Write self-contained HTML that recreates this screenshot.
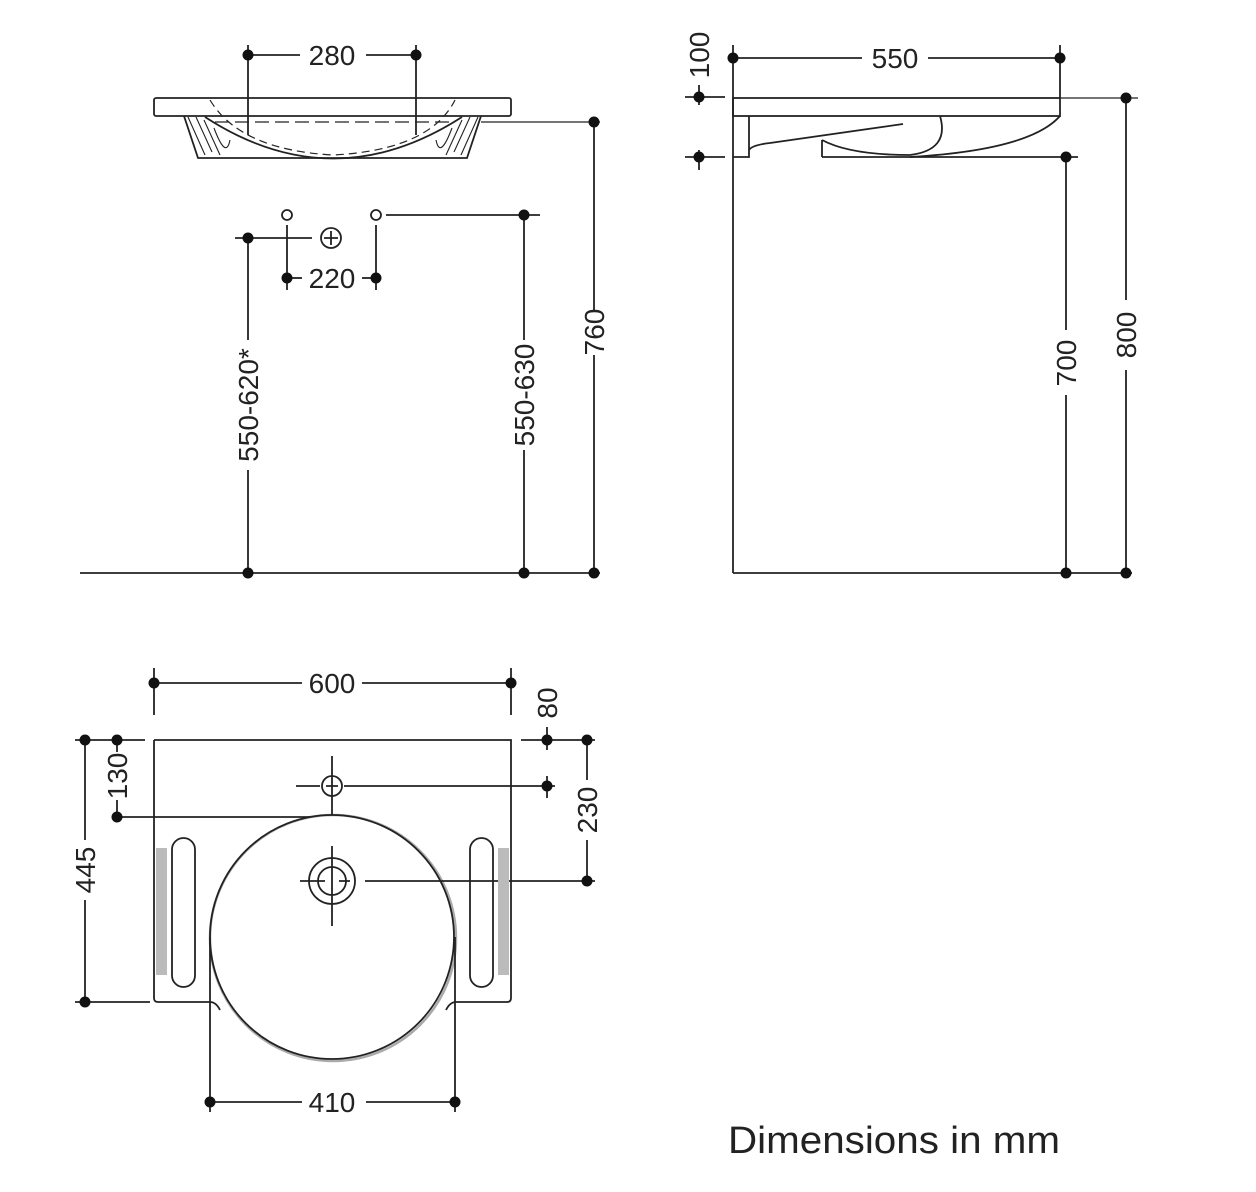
<!DOCTYPE html>
<html><head><meta charset="utf-8"><style>
html,body{margin:0;padding:0;background:#fff}
svg{display:block}
text{font-family:"Liberation Sans",sans-serif;fill:#222}
</style></head><body>
<svg width="1256" height="1192" viewBox="0 0 1256 1192" xmlns="http://www.w3.org/2000/svg">
<g stroke="#222" stroke-width="1.8" fill="none">
<rect x="154" y="98" width="357" height="18" rx="2"/>
<path d="M184 116 L198 158 L467 158 L481 116"/>
<path d="M205 117 Q333 200 462 117"/>
<path d="M210 100 Q240 150 333 155 Q430 150 455 100" stroke-dasharray="8,5" stroke-width="1.2"/>
<path d="M215 122 H455" stroke-dasharray="14,6" stroke-width="1.2"/>
<path d="M188 117 L205 155 M196 117 L212 152 M204 120 L220 155 M214 128 Q226 160 230 140 M478 117 L461 155 M470 117 L454 152 M462 120 L446 155 M452 128 Q440 160 436 140" stroke-width="1.1"/>
<line x1="248" y1="45" x2="248" y2="135"/><line x1="416" y1="45" x2="416" y2="135"/>
<line x1="248" y1="55" x2="300" y2="55"/><line x1="366" y1="55" x2="416" y2="55"/>
<line x1="481" y1="122" x2="600" y2="122" stroke-width="1.3"/>
<line x1="594" y1="122" x2="594" y2="310"/><line x1="594" y1="355" x2="594" y2="573"/>
<circle cx="287" cy="215" r="5"/><circle cx="376" cy="215" r="5"/>
<line x1="386" y1="215" x2="540" y2="215"/>
<line x1="524" y1="215" x2="524" y2="340"/><line x1="524" y1="450" x2="524" y2="573"/>
<circle cx="331" cy="238" r="10"/><path d="M324 238H338M331 231V245"/>
<line x1="235" y1="238" x2="312" y2="238"/>
<line x1="248" y1="238" x2="248" y2="340"/><line x1="248" y1="470" x2="248" y2="573"/>
<line x1="287" y1="225" x2="287" y2="290"/><line x1="376" y1="225" x2="376" y2="290"/>
<line x1="287" y1="278" x2="302" y2="278"/><line x1="362" y1="278" x2="376" y2="278"/>
<line x1="80" y1="573" x2="600" y2="573"/>
<line x1="733" y1="45" x2="733" y2="573"/>
<line x1="733" y1="573" x2="1132" y2="573"/>
<line x1="1060" y1="45" x2="1060" y2="98"/>
<line x1="733" y1="58" x2="862" y2="58"/><line x1="928" y1="58" x2="1060" y2="58"/>
<rect x="733" y="98" width="327" height="18"/>
<line x1="1060" y1="98" x2="1138" y2="98" stroke-width="1.2"/>
<line x1="1126" y1="98" x2="1126" y2="300"/><line x1="1126" y1="370" x2="1126" y2="573"/>
<line x1="822" y1="157" x2="1078" y2="157"/>
<line x1="1066" y1="157" x2="1066" y2="330"/><line x1="1066" y1="395" x2="1066" y2="573"/>
<path d="M749 116 V157 H733 M749 150 Q752 145 770 143 L903 124 M822 140 V157 M822 140 Q850 155 910 155 M910 155 Q950 150 940 116 M910 157 Q1030 150 1060 116"/>
<line x1="685" y1="97" x2="725" y2="97"/><line x1="685" y1="157" x2="725" y2="157"/>
<line x1="699" y1="85" x2="699" y2="105"/><line x1="699" y1="150" x2="699" y2="170"/>
<path d="M154 740 H511 V998 Q511 1002 507 1002 H456 Q450 1002 446 1010 M154 740 V998 Q154 1002 158 1002 H210 Q216 1002 220 1010"/>
<circle cx="333" cy="938" r="123" stroke="#aaa" stroke-width="2.5"/>
<circle cx="332" cy="937" r="122"/>
<rect x="172" y="838" width="23" height="149" rx="11.5"/>
<rect x="470" y="838" width="23" height="149" rx="11.5"/>
<circle cx="332" cy="786" r="10"/><path d="M296 786H320M344 786H555M332 756V815M326 786H338M332 780V792"/>
<circle cx="332" cy="881" r="23"/><circle cx="332" cy="881" r="14"/>
<path d="M300 881H325M339 881H350M365 881H595M332 846V926M332 875V887"/>
<line x1="154" y1="668" x2="154" y2="715"/><line x1="511" y1="668" x2="511" y2="715"/>
<line x1="154" y1="683" x2="302" y2="683"/><line x1="362" y1="683" x2="511" y2="683"/>
<line x1="75" y1="740" x2="145" y2="740"/><line x1="75" y1="1002" x2="150" y2="1002"/>
<line x1="85" y1="740" x2="85" y2="840"/><line x1="85" y1="900" x2="85" y2="1002"/>
<line x1="117" y1="740" x2="117" y2="752"/><line x1="117" y1="800" x2="117" y2="817"/>
<line x1="117" y1="817" x2="310" y2="817"/>
<line x1="521" y1="740" x2="595" y2="740"/>
<line x1="547" y1="727" x2="547" y2="750"/><line x1="547" y1="776" x2="547" y2="798"/>
<line x1="587" y1="740" x2="587" y2="780"/><line x1="587" y1="840" x2="587" y2="881"/>
<line x1="210" y1="937" x2="210" y2="1112"/><line x1="455" y1="937" x2="455" y2="1112"/>
<line x1="210" y1="1102" x2="302" y2="1102"/><line x1="366" y1="1102" x2="455" y2="1102"/>
</g>
<rect x="156" y="848" width="11" height="127" fill="#bbb"/>
<rect x="498" y="848" width="11" height="127" fill="#bbb"/>
<g fill="#111">
<circle cx="248" cy="55" r="5.5"/><circle cx="416" cy="55" r="5.5"/>
<circle cx="594" cy="122" r="5.5"/><circle cx="524" cy="215" r="5.5"/><circle cx="248" cy="238" r="5.5"/>
<circle cx="287" cy="278" r="5.5"/><circle cx="376" cy="278" r="5.5"/>
<circle cx="248" cy="573" r="5.5"/><circle cx="524" cy="573" r="5.5"/><circle cx="594" cy="573" r="5.5"/>
<circle cx="733" cy="58" r="5.5"/><circle cx="1060" cy="58" r="5.5"/><circle cx="1126" cy="98" r="5.5"/>
<circle cx="1066" cy="157" r="5.5"/><circle cx="699" cy="97" r="5.5"/><circle cx="699" cy="157" r="5.5"/>
<circle cx="1066" cy="573" r="5.5"/><circle cx="1126" cy="573" r="5.5"/>
<circle cx="154" cy="683" r="5.5"/><circle cx="511" cy="683" r="5.5"/>
<circle cx="85" cy="740" r="5.5"/><circle cx="85" cy="1002" r="5.5"/>
<circle cx="117" cy="740" r="5.5"/><circle cx="117" cy="817" r="5.5"/>
<circle cx="547" cy="740" r="5.5"/><circle cx="547" cy="786" r="5.5"/>
<circle cx="587" cy="740" r="5.5"/><circle cx="587" cy="881" r="5.5"/>
<circle cx="210" cy="1102" r="5.5"/><circle cx="455" cy="1102" r="5.5"/>
</g>
<g font-size="28" text-anchor="middle">
<text x="332" y="65">280</text>
<text x="332" y="288">220</text>
<text x="895" y="68">550</text>
<text x="332" y="693">600</text>
<text x="332" y="1112">410</text>
<text transform="translate(604,332) rotate(-90)">760</text>
<text transform="translate(534,395) rotate(-90)">550-630</text>
<text transform="translate(258,405) rotate(-90)">550-620*</text>
<text transform="translate(1076,363) rotate(-90)">700</text>
<text transform="translate(1136,335) rotate(-90)">800</text>
<text transform="translate(709,55) rotate(-90)">100</text>
<text transform="translate(95,870) rotate(-90)">445</text>
<text transform="translate(127,776) rotate(-90)">130</text>
<text transform="translate(557,703) rotate(-90)">80</text>
<text transform="translate(597,810) rotate(-90)">230</text>
</g>
<text x="728" y="1153" font-size="38" fill="#111" textLength="332" lengthAdjust="spacingAndGlyphs">Dimensions in mm</text>
</svg>
</body></html>
